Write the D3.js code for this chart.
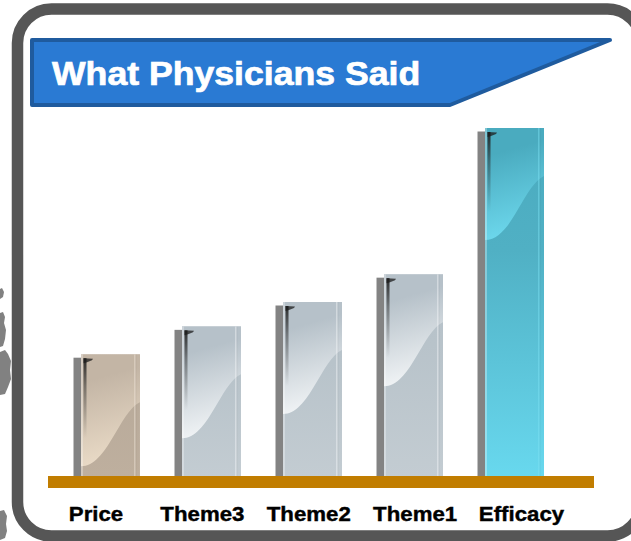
<!DOCTYPE html>
<html>
<head>
<meta charset="utf-8">
<script src="https://cdn.jsdelivr.net/npm/d3@7"></script>
<style>
  html, body { margin: 0; padding: 0; background: #fff; overflow: hidden; }
  svg { display: block; }
</style>
</head>
<body>
<svg id="chart" width="631" height="541"></svg>
<script>
// ---- data ----
const categories = ["Price", "Theme3", "Theme2", "Theme1", "Efficacy"];
const values = [35, 43, 50, 58, 100];
const titleText = "What Physicians Said";

// ---- palettes (style, kept apart from the data) ----
const palettes = {
  beige: { top: "#C3B5A5", low0: "#B9AB9B", low1: "#BEAF9E", light: "#E9DAC6", stripe: "#EFE4D6" },
  steel: { top: "#B6C1C9", low0: "#B8C3CA", low1: "#C3CCD2", light: "#F0F3F5", stripe: "#F4F7F9" },
  teal:  { top: "#4AABBF", low0: "#50B0C4", low1: "#68D8EE", light: "#6CD7EC", stripe: "#7FE2F4" }
};
const paletteOf = c => c === "Price" ? "beige" : (c === "Efficacy" ? "teal" : "steel");

const W = 631, H = 541;
const svg = d3.select("#chart");
const defs = svg.append("defs");

// gradients for each palette
Object.entries(palettes).forEach(([name, p]) => {
  const low = defs.append("linearGradient").attr("id", "low-" + name)
    .attr("x1", 0).attr("y1", 0).attr("x2", 0).attr("y2", 1);
  low.append("stop").attr("offset", 0).attr("stop-color", p.top);
  low.append("stop").attr("offset", 0.35).attr("stop-color", p.low0);
  low.append("stop").attr("offset", 1).attr("stop-color", p.low1);

  const gloss = defs.append("linearGradient").attr("id", "gloss-" + name)
    .attr("x1", 0).attr("y1", 0).attr("x2", 0.15).attr("y2", 1);
  gloss.append("stop").attr("offset", 0).attr("stop-color", p.top);
  gloss.append("stop").attr("offset", 0.25).attr("stop-color", p.top);
  gloss.append("stop").attr("offset", 1).attr("stop-color", p.light);
});

// dark sheen streak fading downwards
const fade = defs.append("linearGradient").attr("id", "streak")
  .attr("x1", 0).attr("y1", 0).attr("x2", 0).attr("y2", 1);
fade.append("stop").attr("offset", 0).attr("stop-color", "#1a1a1a").attr("stop-opacity", 0.9);
fade.append("stop").attr("offset", 0.35).attr("stop-color", "#2a2a2a").attr("stop-opacity", 0.5);
fade.append("stop").attr("offset", 1).attr("stop-color", "#333").attr("stop-opacity", 0);

// ---- margin scribbles on the far left ----
const scribbles = [
  "M0,289 L2,288 L4,292 L3,297 L0,299Z",
  "M0,313 L3,312 L5,317 L4,323 L6,330 L5,339 L3,346 L0,347Z",
  "M0,352 L5,350 L8,354 L11,361 L10,370 L11,379 L8,387 L5,394 L0,395Z",
  "M0,511 L4,510 L7,516 L6,524 L7,531 L5,538 L0,540Z"
];
svg.append("g").selectAll("path").data(scribbles).join("path")
  .attr("d", d => d).attr("fill", "#6b6b6b").attr("opacity", 0.85);

// ---- rounded frame ----
svg.append("rect")
  .attr("x", 17.5).attr("y", 9).attr("width", 624).attr("height", 527)
  .attr("rx", 34).attr("ry", 34)
  .attr("fill", "#fff").attr("stroke", "#565656").attr("stroke-width", 11.5);

// ---- title banner ----
svg.append("path")
  .attr("d", "M32,40 L610,40 L450,105 L32,105 Z")
  .attr("fill", "#2A7AD3").attr("stroke", "#1F5B9E").attr("stroke-width", 4)
  .attr("stroke-linejoin", "round");
svg.append("text")
  .attr("transform", "translate(52,85) scale(1.08,1)")
  .attr("font-family", "'Liberation Sans', Arial, Helvetica, sans-serif")
  .attr("font-weight", "bold").attr("font-size", 33)
  .attr("fill", "#fff").attr("stroke", "#fff").attr("stroke-width", 0.7)
  .text(titleText);

// ---- scales ----
const x = d3.scaleBand().domain(categories).range([81, 544]).paddingInner(0.416).paddingOuter(0);
const y = d3.scaleLinear().domain([0, 100]).range([476, 128]);
const xl = d3.scalePoint().domain(categories).range([96, 521.5]);

const rows = categories.map((c, i) => ({ c, v: values[i], i }));

// ---- bars ----
const bars = svg.append("g").selectAll("g.bar").data(rows).join("g").attr("class", "bar");

bars.each(function (d) {
  const g = d3.select(this);
  const pal = paletteOf(d.c);
  const x0 = x(d.c), w = x.bandwidth(), x1 = x0 + w;
  const top = y(d.v), bottom = y(0), h = bottom - top;

  // offset shadow slab
  g.append("rect").attr("x", x0 - 7.5).attr("y", top + 3.5)
    .attr("width", 7.5).attr("height", h - 3.5).attr("fill", "#838383");

  const clipId = "clip-" + d.i;
  defs.append("clipPath").attr("id", clipId)
    .append("rect").attr("x", x0).attr("y", top).attr("width", w).attr("height", h);

  const body = g.append("g").attr("clip-path", `url(#${clipId})`);

  body.append("rect").attr("x", x0).attr("y", top).attr("width", w).attr("height", h)
    .attr("fill", `url(#low-${pal})`);

  // glossy upper-left region bounded by an S curve
  const yr = top + 48, yl = Math.min(top + 112, bottom - 2), dd = yl - yr;
  const gloss = d3.path();
  gloss.moveTo(x0, top);
  gloss.lineTo(x1, top);
  gloss.lineTo(x1, yr);
  gloss.bezierCurveTo(x1 - 0.35 * w, yr + 0.15 * dd, x0 + 0.45 * w, yl, x0, yl);
  gloss.closePath();
  body.append("path").attr("d", gloss.toString()).attr("fill", `url(#gloss-${pal})`);

  // thin highlight lines
  body.append("rect").attr("x", x1 - 6).attr("y", top).attr("width", 1.6).attr("height", h)
    .attr("fill", palettes[pal].stripe).attr("opacity", 0.45);
  body.append("rect").attr("x", x1 - 4.4).attr("y", top).attr("width", 1).attr("height", h)
    .attr("fill", "#000").attr("opacity", 0.04);
  body.append("rect").attr("x", x0).attr("y", top).attr("width", 2).attr("height", h)
    .attr("fill", "#fff").attr("opacity", 0.3);

  // dark sheen mark at the top-left
  body.append("rect").attr("x", x0 + 2.5).attr("y", top + 4)
    .attr("width", 3).attr("height", Math.min(80, h - 12))
    .attr("fill", "url(#streak)");
  body.append("path")
    .attr("d", `M${x0 + 2.5},${top + 4} L${x0 + 12},${top + 4.5} L${x0 + 11},${top + 6} L${x0 + 6},${top + 8} L${x0 + 2.5},${top + 9} Z`)
    .attr("fill", "#1c1c1c").attr("opacity", 0.75);
});

// ---- base shelf ----
svg.append("rect")
  .attr("x", x.range()[0] - 33).attr("y", y(0))
  .attr("width", (x.range()[1] + 50) - (x.range()[0] - 33)).attr("height", 12)
  .attr("fill", "#C17D00");

// ---- category labels ----
svg.append("g").selectAll("text").data(categories).join("text")
  .attr("transform", c => `translate(${xl(c)},521) scale(1.06,1)`)
  .attr("text-anchor", "middle")
  .attr("font-family", "'Liberation Sans', Arial, Helvetica, sans-serif")
  .attr("font-weight", "bold").attr("font-size", 21)
  .attr("fill", "#000").attr("stroke", "#000").attr("stroke-width", 0.4)
  .text(c => c);
</script>
</body>
</html>
